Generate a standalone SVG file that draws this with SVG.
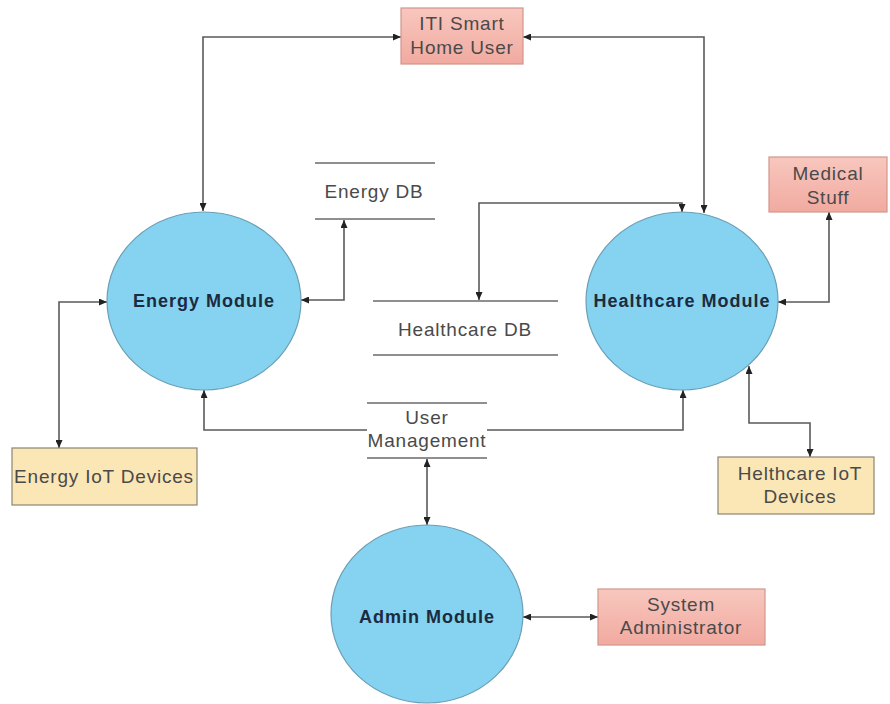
<svg xmlns="http://www.w3.org/2000/svg" width="890" height="704" viewBox="0 0 890 704">
<style>
.proc{fill:#86d2f1;stroke:#6b9fb5;stroke-width:1.2}
.ptxt{font-family:"Liberation Sans",Arial,sans-serif;font-size:18px;font-weight:bold;fill:#1b2b40;letter-spacing:1px;text-anchor:middle}
.txt{font-family:"Liberation Sans",Arial,sans-serif;font-size:19px;fill:#4a4a4a;letter-spacing:0.8px;text-anchor:middle}
.pink{fill:url(#pg);stroke:#d2968c;stroke-width:1.2}
.yel{fill:#fbe6b6;stroke:#8c8574;stroke-width:1.2}
.store{stroke:#6a6a6a;stroke-width:1.6}
.conn{fill:none;stroke:#5a5a5a;stroke-width:1.6}
</style>
<defs>
<linearGradient id="pg" x1="0" y1="0" x2="0" y2="1">
<stop offset="0" stop-color="#f8c7be"/>
<stop offset="1" stop-color="#f1aaa0"/>
</linearGradient>
<marker id="ah" viewBox="0 0 8 7" refX="8" refY="3.5" markerWidth="8" markerHeight="7" markerUnits="userSpaceOnUse" orient="auto-start-reverse">
<path d="M0,0 L8,3.5 L0,7 z" fill="#222"/>
</marker>
</defs>
<rect width="890" height="704" fill="#ffffff"/>

<g id="connectors">
<path class="conn" d="M203,211 V37 H401" marker-start="url(#ah)" marker-end="url(#ah)"/>
<path class="conn" d="M523,37 H704 V213" marker-start="url(#ah)" marker-end="url(#ah)"/>
<path class="conn" d="M479,300 V203 H682 V212" marker-start="url(#ah)" marker-end="url(#ah)"/>
<path class="conn" d="M301,300 H344 V220" marker-start="url(#ah)" marker-end="url(#ah)"/>
<path class="conn" d="M107,302 H59 V448" marker-start="url(#ah)" marker-end="url(#ah)"/>
<path class="conn" d="M204,390 V430 H367" marker-start="url(#ah)"/>
<path class="conn" d="M487,430 H683 V390" marker-end="url(#ah)"/>
<path class="conn" d="M427,459 V525" marker-start="url(#ah)" marker-end="url(#ah)"/>
<path class="conn" d="M523,617 H598" marker-start="url(#ah)" marker-end="url(#ah)"/>
<path class="conn" d="M778,302 H829 V212" marker-start="url(#ah)" marker-end="url(#ah)"/>
<path class="conn" d="M749,366 V423 H810 V457" marker-start="url(#ah)" marker-end="url(#ah)"/>
</g>

<g id="iti-user">
<rect class="pink" x="401" y="8" width="122" height="56"/>
<text class="txt" x="462" y="30">ITI Smart</text>
<text class="txt" x="462" y="54">Home User</text>
</g>

<g id="energy-db">
<line class="store" x1="315" y1="163" x2="435" y2="163"/>
<line class="store" x1="315" y1="219" x2="435" y2="219"/>
<text class="txt" x="374" y="198">Energy DB</text>
</g>

<g id="healthcare-db">
<line class="store" x1="373" y1="301" x2="558" y2="301"/>
<line class="store" x1="373" y1="355" x2="558" y2="355"/>
<text class="txt" x="465" y="336">Healthcare DB</text>
</g>

<g id="user-management">
<line class="store" x1="367" y1="403" x2="487" y2="403"/>
<line class="store" x1="367" y1="458" x2="487" y2="458"/>
<text class="txt" x="427" y="424">User</text>
<text class="txt" x="427" y="447">Management</text>
</g>

<g id="energy-module">
<ellipse class="proc" cx="204" cy="301" rx="97" ry="89"/>
<text class="ptxt" x="204" y="307">Energy Module</text>
</g>

<g id="healthcare-module">
<ellipse class="proc" cx="682" cy="301" rx="96" ry="89"/>
<text class="ptxt" x="682" y="307">Healthcare Module</text>
</g>

<g id="admin-module">
<ellipse class="proc" cx="427" cy="614" rx="96" ry="89"/>
<text class="ptxt" x="427" y="623">Admin Module</text>
</g>

<g id="medical-stuff">
<rect class="pink" x="769" y="157" width="118" height="55"/>
<text class="txt" x="828" y="180">Medical</text>
<text class="txt" x="828" y="204">Stuff</text>
</g>

<g id="energy-iot">
<rect class="yel" x="12" y="448" width="185" height="57"/>
<text class="txt" x="104" y="483">Energy IoT Devices</text>
</g>

<g id="healthcare-iot">
<rect class="yel" x="718" y="457" width="156" height="57"/>
<text class="txt" x="800" y="480">Helthcare IoT</text>
<text class="txt" x="800" y="503">Devices</text>
</g>

<g id="system-admin">
<rect class="pink" x="598" y="589" width="167" height="56"/>
<text class="txt" x="681" y="611">System</text>
<text class="txt" x="681" y="634">Administrator</text>
</g>
</svg>
